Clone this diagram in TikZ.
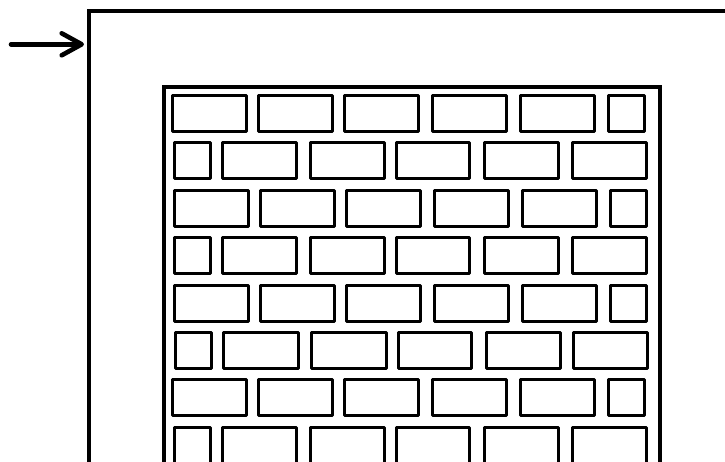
\documentclass[tikz,border=0pt]{standalone}
\usetikzlibrary{arrows.meta}
\tikzset{
  cadre/.style = {draw=black, line width=4pt},% cadre exterieur
  mur/.style = {draw=black, line width=4pt},% contour du mur
  brique/.style = {draw=black, line width=3pt, line join=round},% une brique
  fleche/.style = {draw=black, line width=4.6pt, line cap=round}% fleche d'entree
}
% rangee qui commence par une brique longue (#1 = haut, #2 = decalage)
\newcommand\rangLongue[2]{%
  \foreach \a/\b in {172/246,258.5/332,344.5/418,432/506,520/594.5,608/644.5}
    \draw[brique] (\a+#2,#1) rectangle (\b+#2,#1+36);}
% rangee qui commence par une demi-brique
\newcommand\rangCourte[2]{%
  \foreach \a/\b in {174/210,222/296.5,310/384.5,396.5/469.5,484.5/558.5,572/646}
    \draw[brique] (\a+#2,#1) rectangle (\b+#2,#1+36);}

\begin{document}
\begin{tikzpicture}[x=1pt,y=-1pt,
    >={Straight Barb[length=20pt,width=22pt,line cap=round,line join=round]}]
  \clip (0,0) rectangle (725,461);
  \coordinate (depart) at (11,44.3);
  \coordinate (entree) at (84,44.3);
  % cadre et mur
  \draw[cadre] (88.5,480) -- (88.5,10.8) -- (740,10.8);
  \draw[mur] (164,480) -- (164,86.7) -- (660,86.7) -- (660,480);
  % briques
  \rangLongue{95.3}{0}
  \rangCourte{142.7}{0}
  \rangLongue{190.2}{2}
  \rangCourte{237.6}{0}
  \rangLongue{285.0}{2}
  \rangCourte{332.5}{1.5}
  \rangLongue{379.9}{0}
  \rangCourte{427.3}{0}
  \draw[fleche,->] (depart) -- (entree);
\end{tikzpicture}
\end{document}
